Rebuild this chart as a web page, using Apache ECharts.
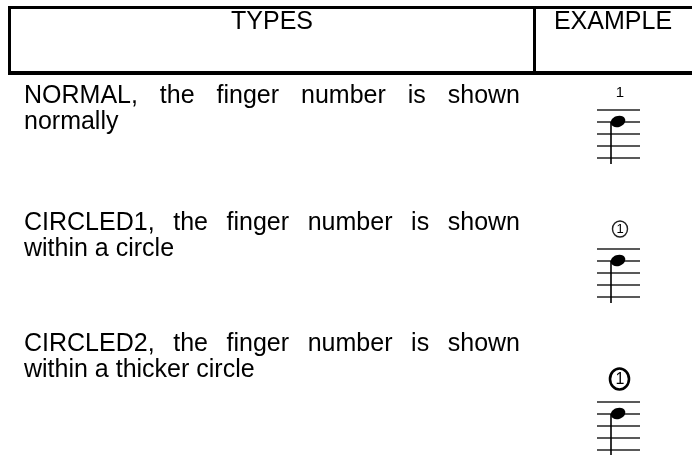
<!DOCTYPE html>
<html>
<head>
<meta charset="utf-8">
<script src="https://cdn.jsdelivr.net/npm/echarts@6/dist/echarts.min.js"></script>
<style>
html,body{margin:0;padding:0;background:#fff;}
#c{width:692px;height:455px;}
</style>
</head>
<body>
<div id="c"></div>
<script>
// ---- table content ----
const headers = ['TYPES', 'EXAMPLE'];
const types = ['NORMAL', 'CIRCLED1', 'CIRCLED2'];
const firstLines = [
  'NORMAL, the finger number is shown',
  'CIRCLED1, the finger number is shown',
  'CIRCLED2, the finger number is shown'
];
const secondLines = ['normally', 'within a circle', 'within a thicker circle'];
const fingerNumbers = ['1', '1', '1'];
const circleStyles = ['none', 'thin', 'thick'];

// ---- layout ----
const FONT = '"Liberation Sans", Arial, sans-serif';
const FS = 25;
const textLeft = 24, textRight = 520;
const rowLine1Y = [96, 223, 344];
const lineGap = 26;
const staffTop = [110, 249, 402];
const staffGap = 12;
const staffX0 = 597, staffX1 = 640;
const stemX = 611;
const labelY = [93, 229, 379];

const ctx = document.createElement('canvas').getContext('2d');
ctx.font = FS + 'px ' + FONT;

const g = [];
// header frame
g.push({type:'rect', shape:{x:8, y:6, width:684, height:3}, style:{fill:'#000'}});
g.push({type:'rect', shape:{x:8, y:6, width:3, height:69}, style:{fill:'#000'}});
g.push({type:'rect', shape:{x:533, y:6, width:3, height:69}, style:{fill:'#000'}});
g.push({type:'rect', shape:{x:8, y:71, width:684, height:4}, style:{fill:'#000'}});
g.push({type:'text', x:272, y:22, style:{text:headers[0], font:FS+'px '+FONT, fill:'#000', align:'center', verticalAlign:'middle'}});
g.push({type:'text', x:613, y:22, style:{text:headers[1], font:FS+'px '+FONT, fill:'#000', align:'center', verticalAlign:'middle'}});

for (let i = 0; i < types.length; i++) {
  // justified first line
  const words = firstLines[i].split(' ');
  const widths = words.map(w => ctx.measureText(w).width);
  const total = widths.reduce((a, b) => a + b, 0);
  const gap = (textRight - textLeft - total) / (words.length - 1);
  let x = textLeft;
  words.forEach((w, k) => {
    g.push({type:'text', x:x, y:rowLine1Y[i], style:{text:w, font:FS+'px '+FONT, fill:'#000', align:'left', verticalAlign:'middle'}});
    x += widths[k] + gap;
  });
  g.push({type:'text', x:textLeft, y:rowLine1Y[i] + lineGap, style:{text:secondLines[i], font:FS+'px '+FONT, fill:'#000', align:'left', verticalAlign:'middle'}});

  // staff
  for (let s = 0; s < 5; s++) {
    const yy = staffTop[i] + s * staffGap;
    g.push({type:'line', shape:{x1:staffX0, y1:yy, x2:staffX1, y2:yy}, style:{stroke:'#222', lineWidth:1.6}});
  }
  const headY = staffTop[i] + staffGap;
  g.push({type:'line', shape:{x1:stemX, y1:headY, x2:stemX, y2:Math.min(staffTop[i] + 4*staffGap + 6, 455)}, style:{stroke:'#000', lineWidth:1.6}});
  g.push({type:'ellipse', x:stemX + 7, y:headY - 0.5, rotation:0.35, shape:{cx:0, cy:0, rx:7.5, ry:5.5}, style:{fill:'#000'}});

  // finger label
  const st = circleStyles[i];
  const lx = 620;
  if (st === 'none') {
    g.push({type:'text', x:lx, y:labelY[i], style:{text:fingerNumbers[i], font:'15px '+FONT, fill:'#000', align:'center', verticalAlign:'middle'}});
  } else if (st === 'thin') {
    g.push({type:'ellipse', shape:{cx:lx, cy:labelY[i], rx:7.5, ry:8}, style:{fill:'none', stroke:'#222', lineWidth:1.4}});
    g.push({type:'text', x:lx, y:labelY[i]+0.5, style:{text:fingerNumbers[i], font:'13px '+FONT, fill:'#000', align:'center', verticalAlign:'middle'}});
  } else {
    g.push({type:'ellipse', shape:{cx:lx-0.5, cy:labelY[i], rx:9.5, ry:10.5}, style:{fill:'none', stroke:'#000', lineWidth:2.6}});
    g.push({type:'text', x:lx, y:labelY[i]+0.5, style:{text:fingerNumbers[i], font:'16px '+FONT, fill:'#000', align:'center', verticalAlign:'middle'}});
  }
}

const chart = echarts.init(document.getElementById('c'), null, {renderer:'canvas'});
chart.setOption({animation:false, graphic:{elements:g}});
</script>
</body>
</html>
